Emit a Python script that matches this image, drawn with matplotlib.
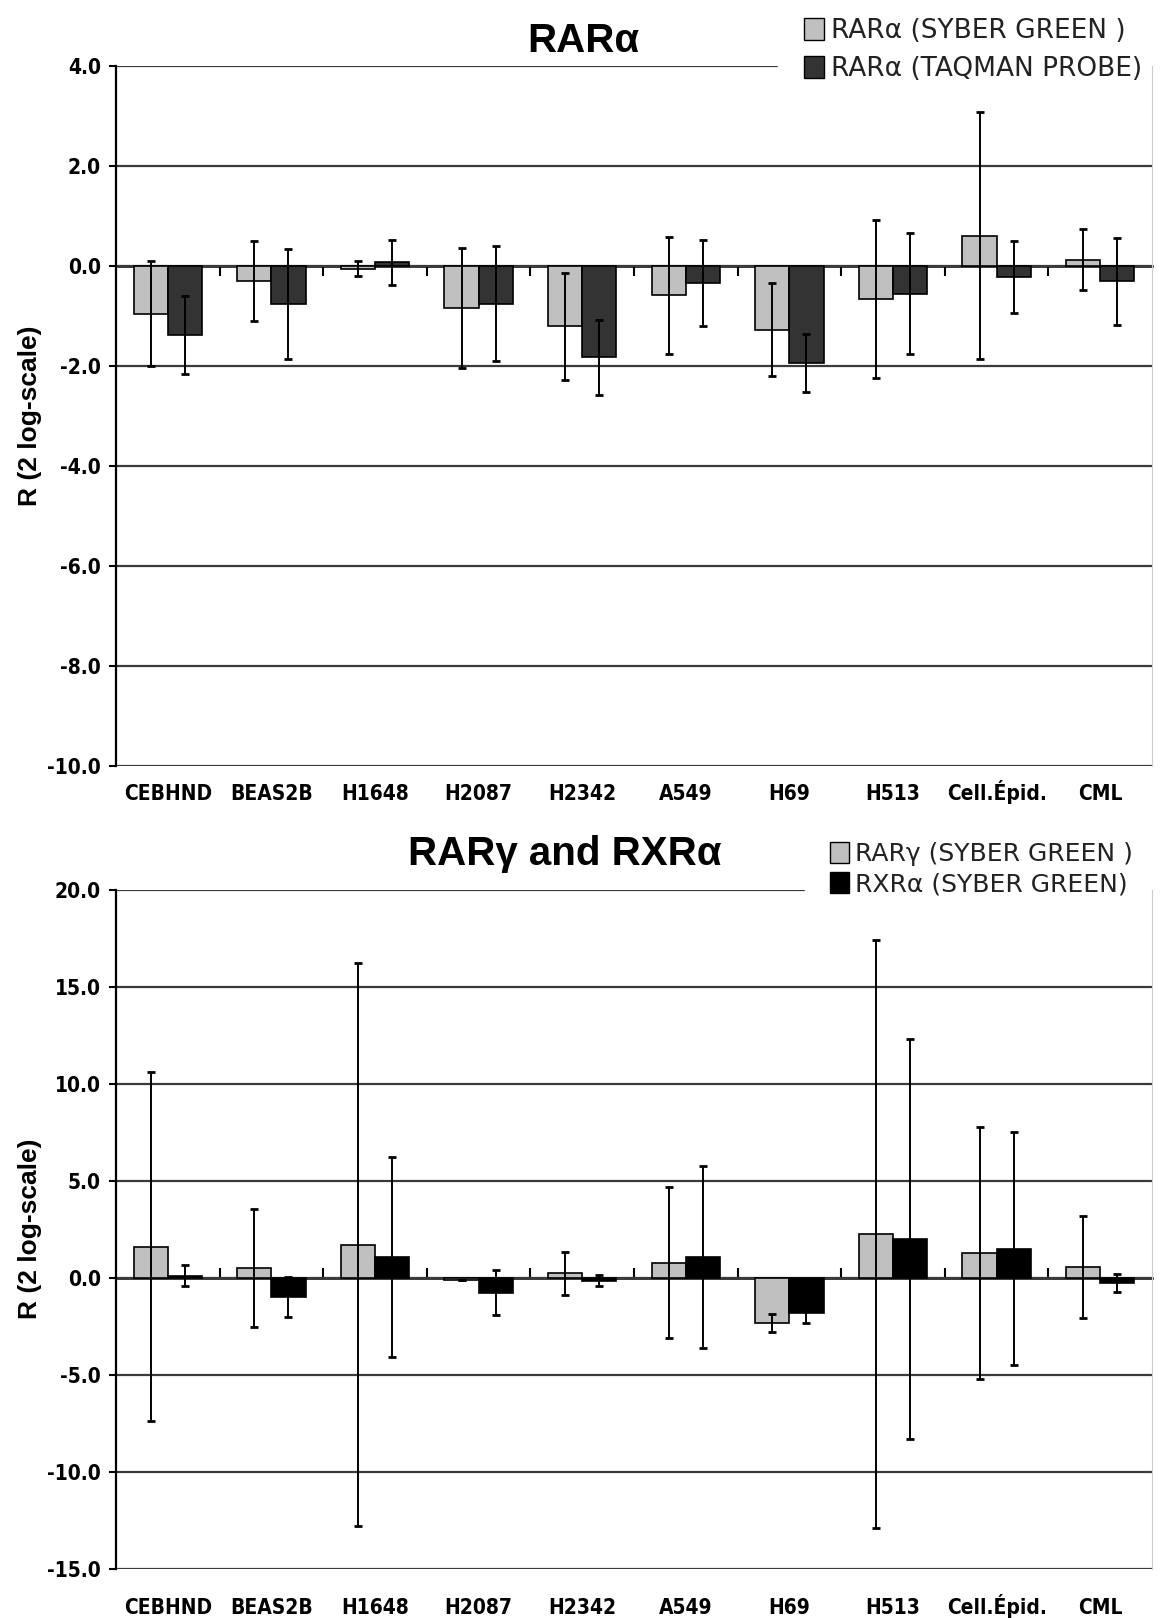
import numpy as np
import matplotlib.pyplot as plt
from matplotlib.patches import Patch

cells = ['CEBHND', 'BEAS2B', 'H1648', 'H2087', 'H2342', 'A549', 'H69', 'H513', 'Cell.Épid.', 'CML']

# RARa panel
rara_syber = [-0.95, -0.30, -0.05, -0.83, -1.20, -0.58, -1.27, -0.65, 0.61, 0.13]
rara_syber_err = [1.05, 0.80, 0.15, 1.20, 1.07, 1.17, 0.93, 1.58, 2.47, 0.61]
rara_taqman = [-1.37, -0.75, 0.08, -0.75, -1.82, -0.34, -1.93, -0.55, -0.22, -0.30]
rara_taqman_err = [0.78, 1.10, 0.45, 1.15, 0.75, 0.86, 0.58, 1.21, 0.72, 0.87]

# RARg / RXRa panel
rarg_syber = [1.60, 0.50, 1.70, -0.10, 0.22, 0.77, -2.35, 2.25, 1.28, 0.55]
rarg_err = [9.0, 3.05, 14.5, 0.0, 1.1, 3.9, 0.47, 15.15, 6.5, 2.65]
rxra_syber = [0.10, -0.98, 1.05, -0.77, -0.15, 1.05, -1.82, 2.00, 1.48, -0.26]
rxra_err = [0.55, 1.03, 5.15, 1.15, 0.27, 4.7, 0.50, 10.3, 6.0, 0.47]

plt.rcParams['font.family'] = ['Liberation Sans', 'DejaVu Sans']
tickfont = dict(family='DejaVu Sans', stretch='condensed', weight='bold', size=15)

W, H = 1160, 1618
fig = plt.figure(figsize=(W / 100, H / 100), dpi=100)


def panel(rect, s1, e1, s2, e2, c1, c2, ylim, ystep, xpad, title, title_xy,
          leg_labels, leg_xy, leg_size, leg_space):
    ax = fig.add_axes(rect)
    x = np.arange(len(cells))
    w = 0.33
    ekw = dict(ecolor='black', elinewidth=1.4, capsize=3, capthick=2, zorder=4)
    ax.bar(x - w / 2, s1, w, color=c1, edgecolor='black', linewidth=1.2,
           yerr=e1, error_kw=ekw, zorder=3)
    ax.bar(x + w / 2, s2, w, color=c2, edgecolor='black', linewidth=1.2,
           yerr=e2, error_kw=ekw, zorder=3)
    ax.set_xlim(-0.5, len(cells) - 0.5)
    ax.set_ylim(*ylim)
    ax.set_yticks(np.arange(ylim[0], ylim[1] + 0.01, ystep))
    ax.set_yticklabels([f'{v:.1f}' for v in ax.get_yticks()], fontdict=tickfont)
    ax.yaxis.grid(True, color='#3a3a3a', linewidth=1.6, zorder=0)
    ax.set_axisbelow(True)
    ax.set_xticks(x)
    ax.set_xticklabels(cells, fontdict=tickfont, va='baseline')
    ax.tick_params(axis='x', length=0, pad=xpad)
    ax.tick_params(axis='y', length=5, width=1.5, direction='out', pad=6)
    for s in ['top', 'bottom']:
        ax.spines[s].set_visible(False)
    ax.spines['right'].set_color('#cccccc')
    ax.spines['left'].set_linewidth(1.6)
    # zero line with small ticks between categories
    sec = ax.secondary_xaxis((0 - ylim[0]) / (ylim[1] - ylim[0]))
    sec.set_xticks(np.arange(0.5, len(cells) - 1, 1.0))
    sec.set_xticklabels([])
    sec.tick_params(length=7, width=1.5, direction='in')
    sec.spines['top'].set_linewidth(1.8)
    sec.spines['bottom'].set_linewidth(1.8)
    ax.set_ylabel('R (2 log-scale)', fontsize=19, fontweight='bold')
    ax.yaxis.set_label_coords(-74 / 1036, 0.5)
    fig.text(title_xy[0] / W, 1 - title_xy[1] / H, title, fontsize=29,
             fontweight='bold', ha='center', va='center')
    handles = [Patch(facecolor=c1, edgecolor='black', linewidth=1),
               Patch(facecolor=c2, edgecolor='black', linewidth=1)]
    x0 = leg_xy[0] / W
    leg = ax.legend(handles, leg_labels, loc='upper left',
                    bbox_to_anchor=(x0, 1 - leg_xy[1] / H, 1 - x0, 0.0),
                    bbox_transform=fig.transFigure, mode='expand',
                    frameon=True, fancybox=False,
                    facecolor='white', edgecolor='white', framealpha=1,
                    prop={'family': 'DejaVu Sans', 'size': leg_size},
                    handlelength=0.75, handleheight=0.9, handletextpad=0.25,
                    labelspacing=leg_space, borderpad=1.0, borderaxespad=0)
    for t in leg.get_texts():
        t.set_color('#222222')
    # above the grid, below bars, error bars and spines
    leg.set_zorder(2)
    return ax


top = panel([116 / W, 1 - 766 / H, 1036 / W, 700 / H],
            rara_syber, rara_syber_err, rara_taqman, rara_taqman_err,
            '#c0c0c0', '#333333', (-10, 4), 2, 24.5, 'RARα', (583, 41),
            ['RARα (SYBER GREEN )', 'RARα (TAQMAN PROBE)'], (778, -8), 19, 0.45)

bottom = panel([116 / W, 1 - 1568.6 / H, 1036 / W, 679 / H],
               rarg_syber, rarg_err, rxra_syber, rxra_err,
               '#c0c0c0', '#000000', (-15, 20), 5, 32.5, 'RARγ and RXRα', (565, 854),
               ['RARγ (SYBER GREEN )', 'RXRα (SYBER GREEN)'], (805, 817), 18, 0.25)

fig.savefig('out.png', dpi=100)
